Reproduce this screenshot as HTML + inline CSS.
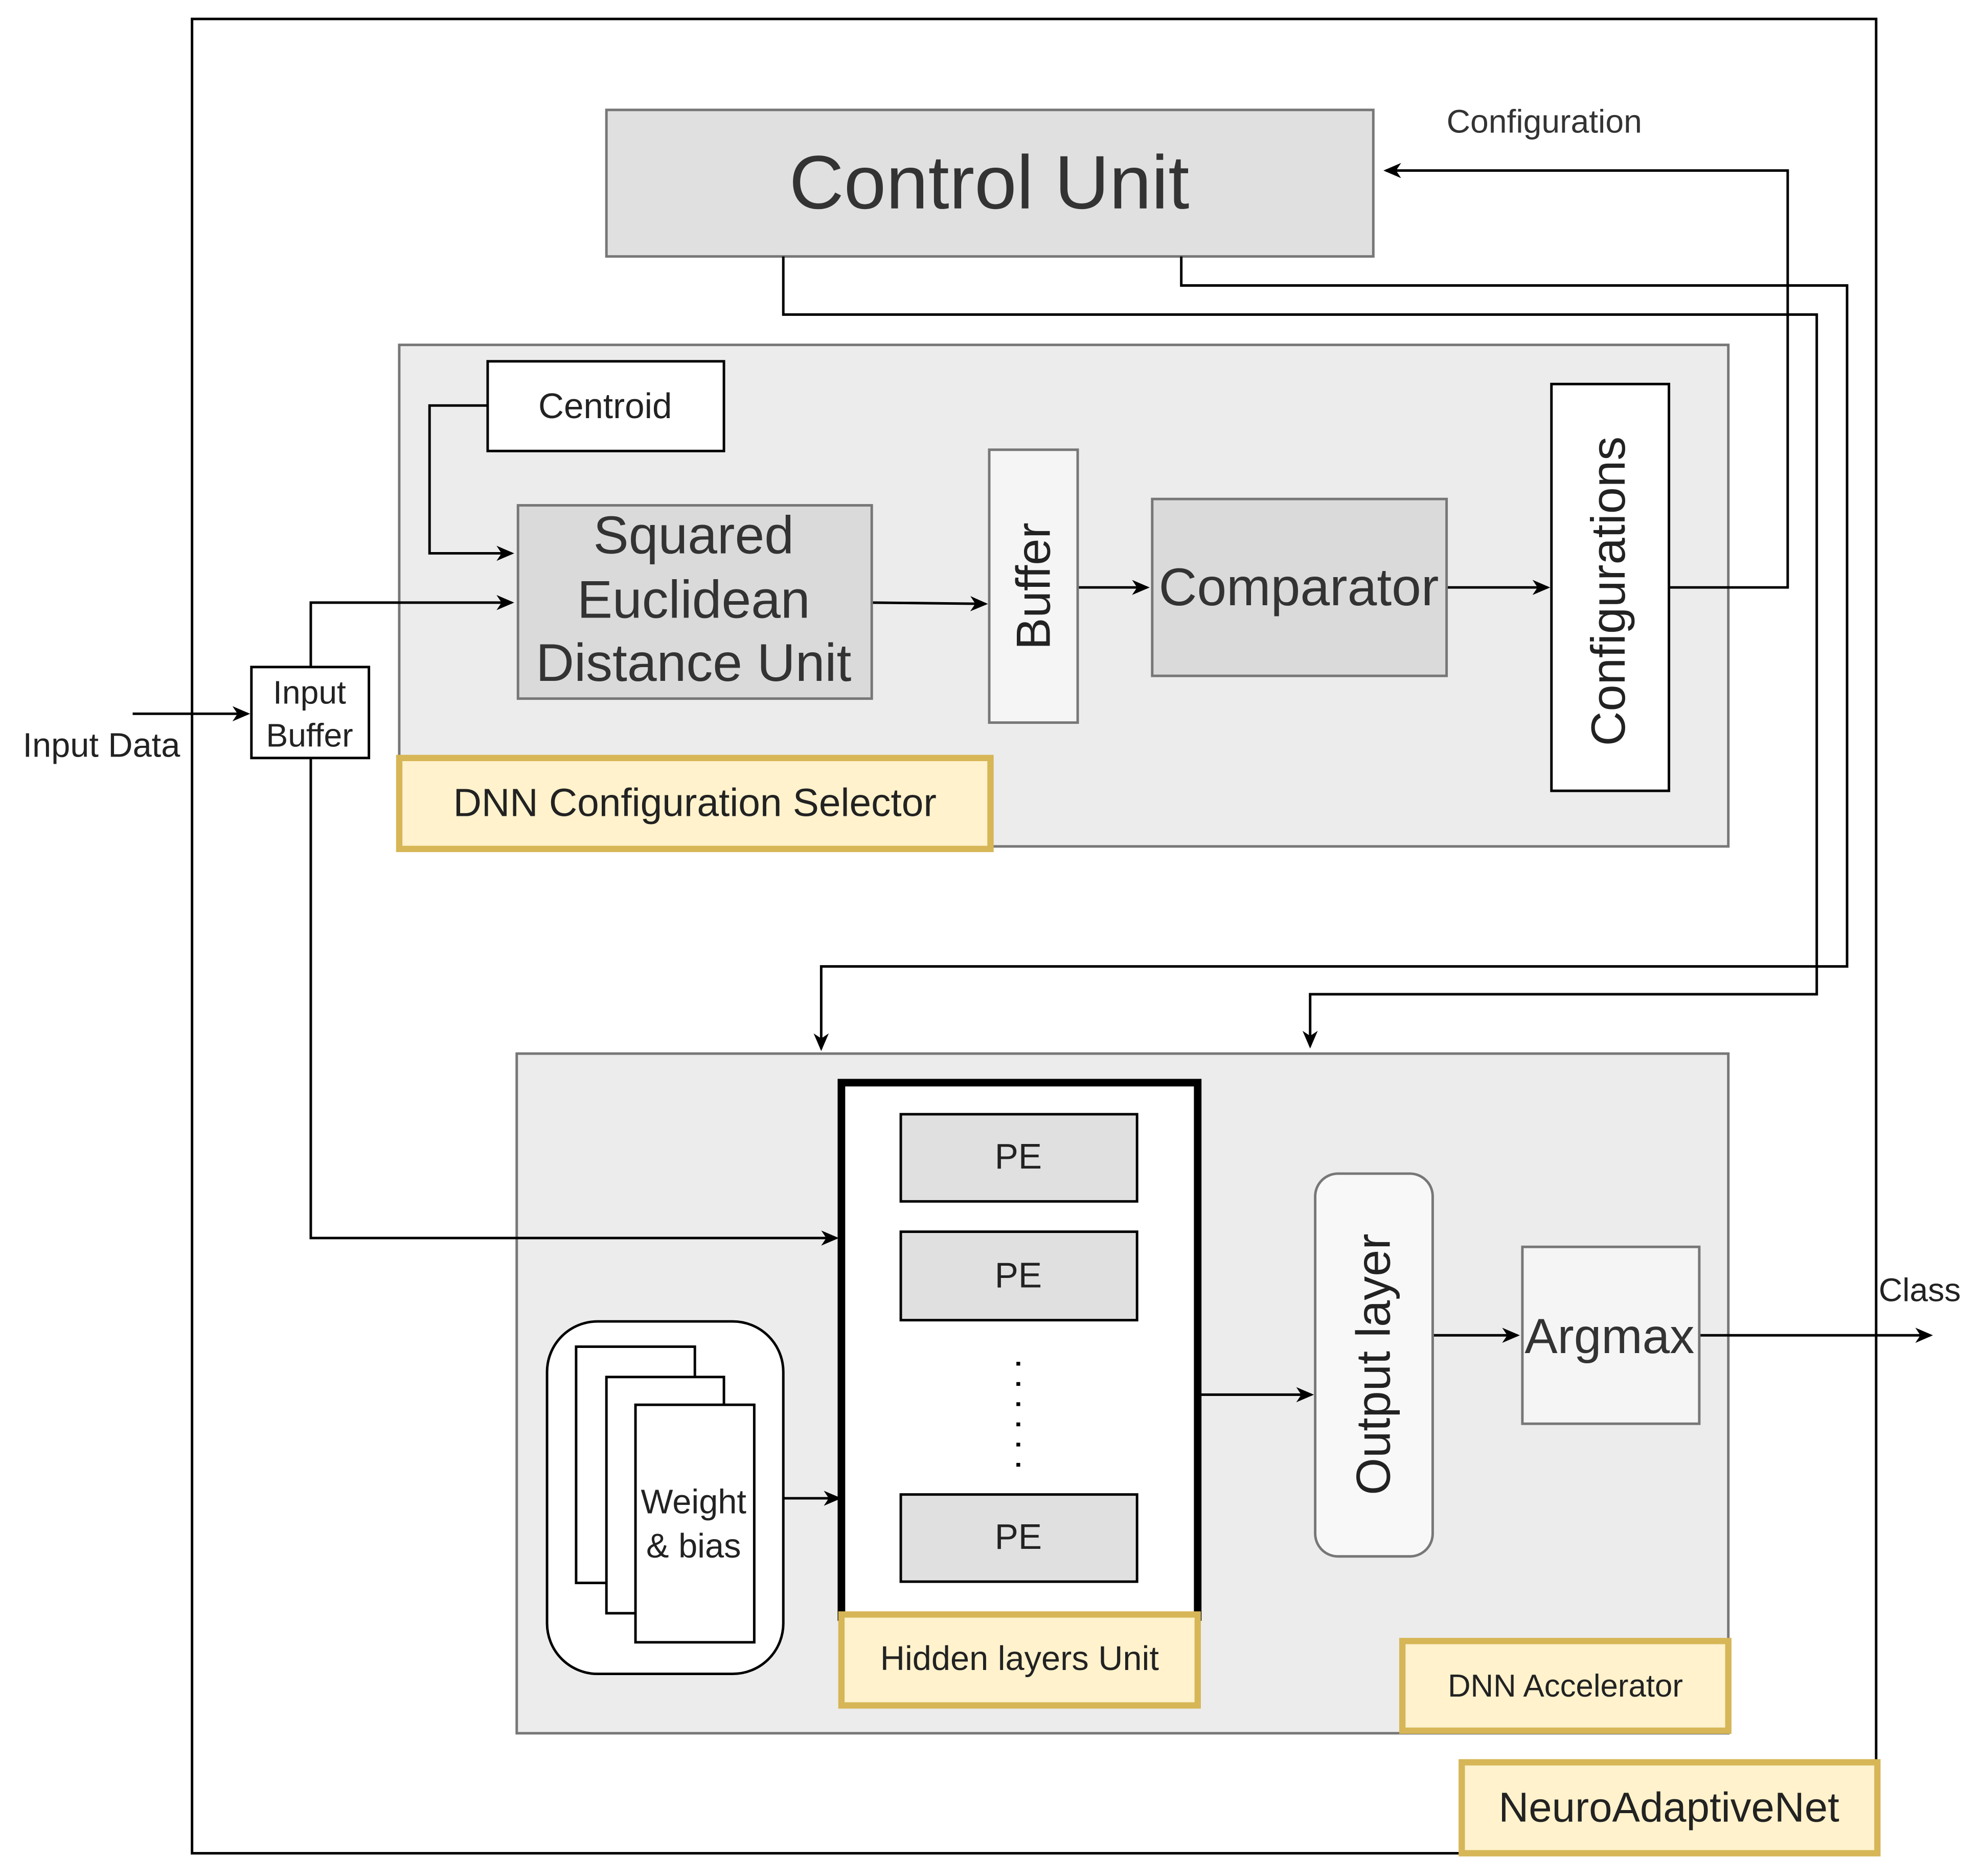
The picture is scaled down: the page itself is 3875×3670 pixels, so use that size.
<!DOCTYPE html>
<html><head><meta charset="utf-8">
<style>html,body{margin:0;padding:0;background:#fff}svg{display:block}</style>
</head><body>
<svg width="3875" height="3670" viewBox="0 0 1568 1485" preserveAspectRatio="none" xmlns="http://www.w3.org/2000/svg" font-family="Liberation Sans, sans-serif" fill="none">
<defs>
<marker id="a" markerWidth="14" markerHeight="14" refX="12" refY="7" orient="auto" markerUnits="userSpaceOnUse" viewBox="0 0 14 14">
<path d="M0,1 L14,7 L0,13 L4,7 Z" fill="#000"/>
</marker>
</defs>
<rect x="0" y="0" width="1568" height="1485" fill="#fff"/>
<rect x="152" y="15" width="1333" height="1452" stroke="#000" stroke-width="2"/>

<rect x="480" y="87" width="607" height="116" fill="#e0e0e0" stroke="#777" stroke-width="2"/>
<text x="783" y="165" font-size="60" fill="#333" text-anchor="middle">Control Unit</text>
<text x="1145" y="105" font-size="26" fill="#333">Configuration</text>

<rect x="316" y="273" width="1052" height="397" fill="#ececec" stroke="#777" stroke-width="2"/>
<rect x="409" y="834" width="959" height="538" fill="#ececec" stroke="#777" stroke-width="2"/>

<g stroke="#000" stroke-width="2">
<polyline points="1322,465 1415,465 1415,135 1097,135" marker-end="url(#a)"/>
<polyline points="620,203 620,249 1438,249 1438,787 1037,787 1037,828" marker-end="url(#a)"/>
<polyline points="935,203 935,226 1462,226 1462,765 650,765 650,830" marker-end="url(#a)"/>
<polyline points="386,321 340,321 340,438 405,438" marker-end="url(#a)"/>
<line x1="690" y1="477" x2="780" y2="478" marker-end="url(#a)"/>
<line x1="105" y1="565" x2="196" y2="565" marker-end="url(#a)"/>
<polyline points="246,528 246,477 405,477" marker-end="url(#a)"/>
<polyline points="246,600 246,980 662,980" marker-end="url(#a)"/>
<line x1="853" y1="465" x2="908" y2="465" marker-end="url(#a)"/>
<line x1="1145" y1="465" x2="1225" y2="465" marker-end="url(#a)"/>
<line x1="620" y1="1186" x2="664" y2="1186" marker-end="url(#a)"/>
<line x1="948" y1="1104" x2="1038" y2="1104" marker-end="url(#a)"/>
<line x1="1134" y1="1057" x2="1201" y2="1057" marker-end="url(#a)"/>
<line x1="1345" y1="1057" x2="1528" y2="1057" marker-end="url(#a)"/>
</g>

<rect x="386" y="286" width="187" height="71" fill="#fff" stroke="#000" stroke-width="2"/>
<text x="479" y="331" font-size="28" fill="#222" text-anchor="middle">Centroid</text>
<rect x="410" y="400" width="280" height="153" fill="#dadada" stroke="#777" stroke-width="2"/>
<g font-size="42" fill="#333" text-anchor="middle">
<text x="549" y="438">Squared</text>
<text x="549" y="489">Euclidean</text>
<text x="549" y="539">Distance Unit</text>
</g>
<rect x="199" y="528" width="93" height="72" fill="#fff" stroke="#000" stroke-width="2"/>
<text x="245" y="557" font-size="26" fill="#222" text-anchor="middle">Input</text>
<text x="245" y="591" font-size="26" fill="#222" text-anchor="middle">Buffer</text>
<text x="18" y="599" font-size="27" fill="#222">Input Data</text>
<rect x="783" y="356" width="70" height="216" fill="#f5f5f5" stroke="#777" stroke-width="2"/>
<text transform="translate(831,464) rotate(-90)" font-size="38" fill="#222" text-anchor="middle">Buffer</text>
<rect x="912" y="395" width="233" height="140" fill="#dadada" stroke="#777" stroke-width="2"/>
<text x="1028" y="479" font-size="42" fill="#333" text-anchor="middle">Comparator</text>
<rect x="1228" y="304" width="93" height="322" fill="#fff" stroke="#000" stroke-width="2"/>
<text transform="translate(1286,468) rotate(-90)" font-size="38" fill="#222" text-anchor="middle">Configurations</text>
<rect x="316" y="600" width="468" height="72" fill="#fff2cc" stroke="#d6b656" stroke-width="5"/>
<text x="550" y="646" font-size="31" fill="#222" text-anchor="middle">DNN Configuration Selector</text>

<rect x="666" y="857" width="282" height="423" fill="#fff" stroke="#000" stroke-width="6"/>
<g fill="#e0e0e0" stroke="#000" stroke-width="2">
<rect x="713" y="882" width="187" height="69"/>
<rect x="713" y="975" width="187" height="70"/>
<rect x="713" y="1183" width="187" height="69"/>
</g>
<g font-size="28" fill="#222" text-anchor="middle">
<text x="806" y="925">PE</text>
<text x="806" y="1019">PE</text>
<text x="806" y="1226">PE</text>
</g>
<line x1="806" y1="1078" x2="806" y2="1162" stroke="#000" stroke-width="3" stroke-dasharray="3,13"/>
<rect x="666" y="1278" width="282" height="72" fill="#fff2cc" stroke="#d6b656" stroke-width="5"/>
<text x="807" y="1322" font-size="27" fill="#222" text-anchor="middle">Hidden layers Unit</text>

<rect x="433" y="1046" width="187" height="279" rx="40" fill="#fff" stroke="#000" stroke-width="2"/>
<rect x="456" y="1066" width="94" height="187" fill="#fff" stroke="#000" stroke-width="2"/>
<rect x="480" y="1090" width="93" height="187" fill="#fff" stroke="#000" stroke-width="2"/>
<rect x="503" y="1112" width="94" height="188" fill="#fff" stroke="#000" stroke-width="2"/>
<text x="549" y="1198" font-size="27" fill="#222" text-anchor="middle">Weight</text>
<text x="549" y="1233" font-size="27" fill="#222" text-anchor="middle">&amp; bias</text>

<rect x="1041" y="929" width="93" height="303" rx="18" fill="#f8f8f8" stroke="#777" stroke-width="2"/>
<text transform="translate(1100,1080) rotate(-90)" font-size="38" fill="#222" text-anchor="middle">Output layer</text>
<rect x="1205" y="987" width="140" height="140" fill="#f5f5f5" stroke="#777" stroke-width="2"/>
<text x="1274" y="1071" font-size="39" fill="#333" text-anchor="middle">Argmax</text>
<text x="1487" y="1030" font-size="26" fill="#222">Class</text>

<rect x="1110" y="1299" width="258" height="71" fill="#fff2cc" stroke="#d6b656" stroke-width="5"/>
<text x="1239" y="1343" font-size="25" fill="#222" text-anchor="middle">DNN Accelerator</text>
<rect x="1157" y="1395" width="329" height="72" fill="#fff2cc" stroke="#d6b656" stroke-width="5"/>
<text x="1321" y="1442" font-size="33" fill="#222" text-anchor="middle">NeuroAdaptiveNet</text>
</svg>
</body></html>
